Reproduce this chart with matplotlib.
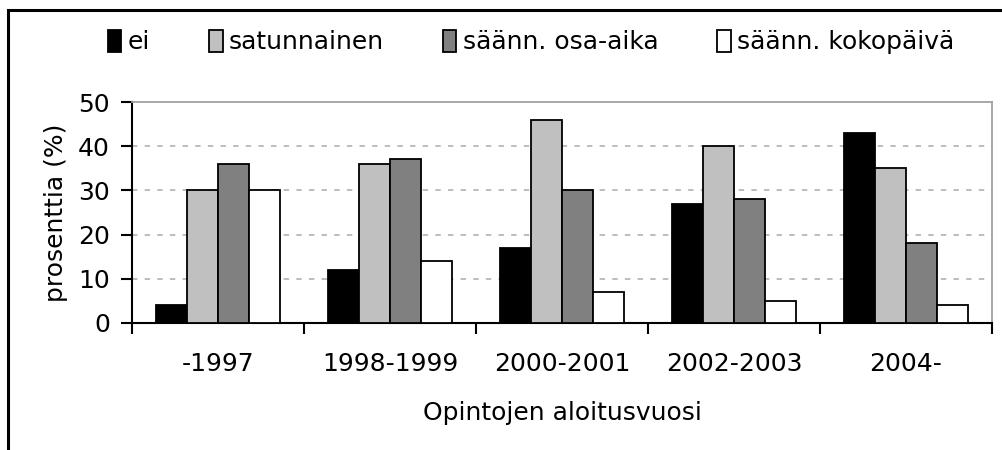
import matplotlib
matplotlib.use("Agg")
import matplotlib.pyplot as plt
import numpy as np
from matplotlib.patches import Rectangle

categories = ["-1997", "1998-1999", "2000-2001", "2002-2003", "2004-"]
series_names = ["ei", "satunnainen", "säänn. osa-aika", "säänn. kokopäivä"]
ei = [4, 12, 17, 27, 43]
satunnainen = [30, 36, 46, 40, 35]
osa_aika = [36, 37, 30, 28, 18]
kokopaiva = [30, 14, 7, 5, 4]
yticks = [0, 10, 20, 30, 40, 50]
colors = ["#000000", "#c0c0c0", "#808080", "#ffffff"]

plt.rcParams['font.family'] = ['DejaVu Sans']
FS = 18
W, H = 1002, 450
fig = plt.figure(figsize=(W / 100, H / 100), dpi=100)
ax = fig.add_axes([132 / W, 127 / H, (992 - 132) / W, (323 - 102) / H])

# figure frame (cropped at right and bottom)
fig.patches.append(Rectangle((8 / W, -0.1), 1.2, (440 / H) + 0.1, transform=fig.transFigure,
                             fill=False, edgecolor="black", linewidth=2.2, zorder=0))

data = [ei, satunnainen, osa_aika, kokopaiva]
x = np.arange(len(categories))
bw = 0.18
for i, (vals, name, c) in enumerate(zip(data, series_names, colors)):
    ax.bar(x + (i - 1.5) * bw, vals, width=bw, color=c, edgecolor="black",
           linewidth=1.3, label=name, zorder=3)

ax.set_xlim(-0.5, len(categories) - 0.5)
ax.set_ylim(0, 50)
ax.set_yticks(yticks)
ax.set_yticklabels([str(t) for t in yticks], fontsize=FS)
ax.set_xticks(x)
ax.set_xticklabels(categories, fontsize=FS)
ax.tick_params(axis='x', which='major', length=0, pad=21)
ax.set_xticks(np.arange(-0.5, len(categories)), minor=True)
ax.tick_params(axis='x', which='minor', length=8, width=1.5, direction='out')
ax.tick_params(axis='y', length=8, width=1.5, direction='out', pad=8)

for t in [10, 20, 30, 40]:
    ax.axhline(t, color="#b8b8b8", linestyle=(0, (3, 4)), linewidth=1.3, zorder=1)

for s in ["top", "right"]:
    ax.spines[s].set_color("#a0a0a0")
    ax.spines[s].set_linewidth(1.3)
for s in ["left", "bottom"]:
    ax.spines[s].set_color("black")
    ax.spines[s].set_linewidth(1.5)

ax.set_ylabel("prosenttia (%)", fontsize=FS, labelpad=7)
ax.set_xlabel("Opintojen aloitusvuosi", fontsize=FS, labelpad=18)

leg = fig.legend(loc="center", bbox_to_anchor=(531 / W, 1 - 42 / H), ncol=4, frameon=False,
                 fontsize=FS, handlelength=0.55, handleheight=1.0, handletextpad=0.25,
                 columnspacing=2.35)

fig.savefig("out.png", dpi=100)
